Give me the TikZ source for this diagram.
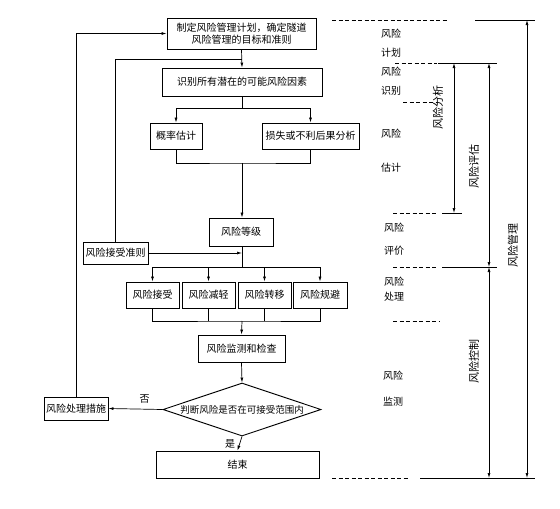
\documentclass[tikz,border=0pt]{standalone}
\usepackage{fontspec}
\setmainfont{Noto Sans CJK SC}
\usetikzlibrary{arrows.meta}
\usetikzlibrary{shapes.geometric}
\tikzset{
  bloco/.style={draw, line width=0.9pt, inner sep=1pt, minimum height=#1, align=center, font=\fontsize{10}{12}\selectfont},
  bloco/.default=26pt,
  losango/.style={draw, diamond, line width=0.9pt, inner sep=0pt, minimum width=158pt, minimum height=53pt},
  fluxo/.style={-{Latex[length=5pt,width=3pt]}, line width=0.7pt},
  cota/.style={{Latex[length=5pt,width=3pt]}-{Latex[length=5pt,width=3pt]}, line width=0.7pt},
  tracejado/.style={line width=0.7pt, dash pattern=on 4pt off 2.5pt},
  etiqueta/.style={align=center, font=\fontsize{10}{12}\selectfont},
  fase/.style={rotate=90, font=\fontsize{11}{12}\selectfont},
}

\begin{document}
\begin{tikzpicture}[x=1pt, y=-1pt, line width=0.7pt]
  \useasboundingbox (0,0) rectangle (560,509);
  % fluxograma
  \node[bloco=31pt, minimum width=149pt] (plano) at (241.5,33.5) {制定风险管理计划，确定隧道\\风险管理的目标和准则};
  \node[bloco=28pt, minimum width=160pt] (ident) at (242,82) {识别所有潜在的可能风险因素};
  \node[bloco, minimum width=52pt] (prob) at (176,136) {概率估计};
  \node[bloco, minimum width=97pt] (perda) at (310.5,136) {损失或不利后果分析};
  \node[bloco=28pt, minimum width=64pt] (nivel) at (241,232) {风险等级};
  \node[bloco=22pt, minimum width=65pt] (criterio) at (115.5,253) {风险接受准则};
  \node[bloco, minimum width=53pt] (aceitar) at (152.5,295) {风险接受};
  \node[bloco, minimum width=53pt] (reduzir) at (208.5,295) {风险减轻};
  \node[bloco, minimum width=53pt] (transf) at (264.5,295) {风险转移};
  \node[bloco, minimum width=54pt] (evitar) at (320,295) {风险规避};
  \node[bloco=27pt, minimum width=87pt] (monitor) at (241.5,348.5) {风险监测和检查};
  \node[losango, label={[font=\fontsize{9.5}{12}\selectfont]center:判断风险是否在可接受范围内}] (decisao) at (242,409.5) {};
  \node[bloco=23pt, minimum width=64pt] (medida) at (76,408.5) {风险处理措施};
  \node[bloco=27pt, minimum width=163pt] (fim) at (237.5,464.5) {结束};

  \coordinate (j1) at (242,59);
  \coordinate (j2) at (242,163);
  \coordinate (j3) at (242,267);
  \coordinate (j4) at (242,321);

  \draw[fluxo] (plano.south) -- (ident.north);
  \draw (criterio.north) |- (j1);
  \draw[fluxo] (medida.north) |- (plano.west);
  \draw[fluxo] (ident.south) -- ++(0,12) -| (prob.north);
  \draw[fluxo] (ident.south) -- ++(0,12) -| (perda.north);
  \draw (prob.south) |- (j2) -| (perda.south);
  \draw[fluxo] (j2) -- (j2 |- nivel.north);
  \draw (j2 |- nivel.south) -- (j3);
  \draw[fluxo] (criterio.east) -- (criterio.east -| j3);
  \draw[fluxo] (j3) -| (aceitar.north);
  \draw[fluxo] (j3) -| (reduzir.north);
  \draw[fluxo] (j3) -| (transf.north);
  \draw[fluxo] (j3) -| (evitar.north);
  \draw (aceitar.south) |- (j4) -| (evitar.south);
  \draw (reduzir.south) -- (reduzir.south |- j4);
  \draw (transf.south) -- (transf.south |- j4);
  \draw[fluxo] (j4) -- (monitor.north);
  \draw[fluxo] (monitor.south) -- (decisao.north);
  \draw[fluxo] (decisao.west) -- node[above=2pt, pos=0.33, etiqueta] (nao) {否} (medida.east);
  \draw[fluxo] (decisao.south) -- node[left=1pt, etiqueta] (sim) {是} (fim.north);

  % escala lateral
  \coordinate (n0) at (527,20);
  \coordinate (n6) at (527,478);
  \coordinate (a1) at (454,63);
  \coordinate (a3) at (454,213);
  \coordinate (b1) at (489,63);
  \coordinate (b4) at (489,267);
  \coordinate (b6) at (489,478);

  \draw[tracejado] (332,20) -- (448,20);
  \draw (475,20) -- (535,20);
  \draw[tracejado] (395,63) -- (437,63);
  \draw (438,63) -- (497,63);
  \draw[tracejado] (403,102) -- (437,102);
  \draw[tracejado] (393,213) -- (437,213);
  \draw (442,213) -- (462,213);
  \draw[tracejado] (393,267) -- (437,267);
  \draw (442,267) -- (497,267);
  \draw[tracejado] (393,321) -- (439,321);
  \draw[tracejado] (332,478) -- (408,478);
  \draw (420,478) -- (535,478);

  \draw[cota] (n0) -- (n6);
  \draw[cota] (a1) -- (a3);
  \draw[cota] (b1) -- (b4);
  \draw[cota] (b4) -- (b6);

  \node[etiqueta] (planeam) at (391,43.5) {风险\\[7pt]计划};
  \node[etiqueta] (identif) at (391,81.5) {风险\\[7pt]识别};
  \node[etiqueta] (estima) at (391,151) {风险\\[22pt]估计};
  \node[etiqueta] (avalia) at (394,239.5) {风险\\[11pt]评价};
  \node[etiqueta] (trata) at (394,289.5) {风险\\[3pt]处理};
  \node[etiqueta] (monit) at (393,389) {风险\\[14pt]监测};

  \node[fase] (analise) at (438,107) {风险分析};
  \node[fase] (avaliacao) at (474,166) {风险评估};
  \node[fase] (gestao) at (513,245) {风险管理};
  \node[fase] (controlo) at (474,361) {风险控制};
\end{tikzpicture}
\end{document}
